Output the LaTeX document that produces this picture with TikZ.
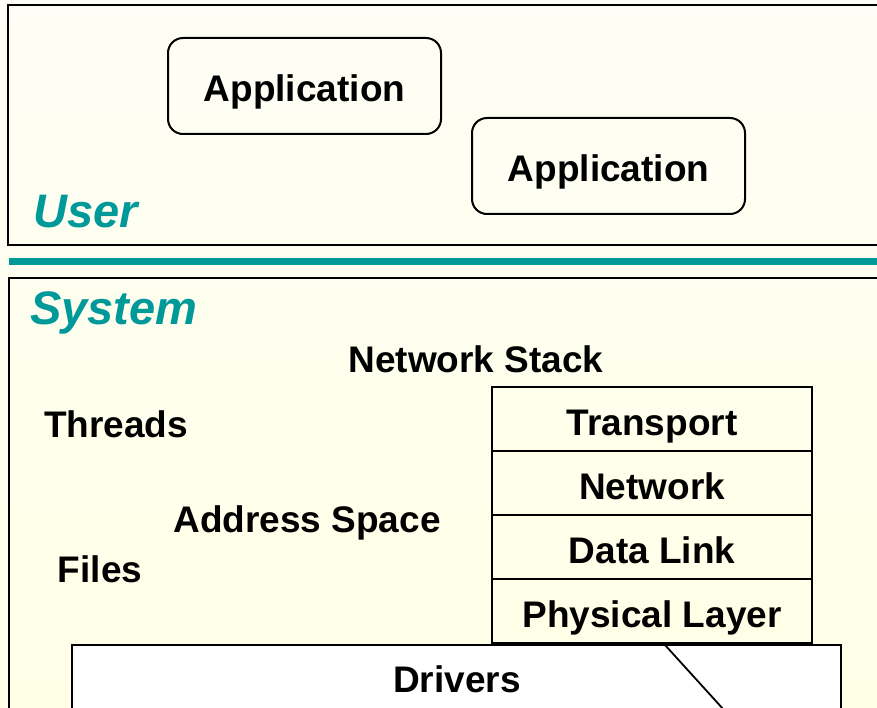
\documentclass[tikz,border=0pt]{standalone}
\usepackage{fontspec}
\setmainfont{Liberation Sans}
\definecolor{teal1}{RGB}{0,153,153}
\definecolor{bgtop}{RGB}{254,254,246}
\definecolor{bgbot}{RGB}{255,255,230}
\tikzset{
  lbl/.style={font=\fontsize{37}{40}\selectfont\bfseries, inner sep=0pt, text height=26.5pt, text depth=0pt},
  region/.style={font=\fontsize{47}{50}\selectfont\bfseries\itshape, text=teal1, inner sep=0pt},
  appbox/.style={draw, line width=2pt, rounded corners=15pt, minimum width=273pt, minimum height=96pt, outer sep=0pt, lbl, text height=31pt},
  layer/.style={draw, line width=2pt, minimum width=320pt, minimum height=64pt, outer sep=0pt, lbl, text height=32pt},
  frame/.style={draw, line width=2.2pt}
}
\begin{document}
\begin{tikzpicture}[x=1pt,y=-1pt]
\useasboundingbox (0,0) rectangle (877,708);
\clip (0,0) rectangle (877,708);
\shade[top color=bgtop, bottom color=bgbot] (0,0) rectangle (877,708);
% user region
\draw[frame] (8,5) rectangle (900,245);
\node[region, anchor=base west] (user) at (33,228) {User};
\node[appbox] (app1) at (304.5,86) {Application};
\node[appbox] (app2) at (608.5,166) {Application};
% divider
\fill[teal1] (9,258) rectangle (900,265.5);
% system region
\draw[frame] (9,278) rectangle (900,760);
\node[region, anchor=base west] (sys) at (30,324) {System};
\node[lbl] (ns) at (476,359) {Network Stack};
\node[lbl] (thr) at (116,424) {Threads};
\node[lbl] (as) at (307,519) {Address Space};
\node[lbl] (files) at (100,569) {Files};
% stack
\node[layer] (tr) at (652,419) {Transport};
\node[layer, anchor=north] (nw) at (tr.south) {Network};
\node[layer, anchor=north] (dl) at (nw.south) {Data Link};
\node[layer, anchor=north] (ph) at (dl.south) {Physical Layer};
% drivers
\draw[frame, fill=white] (72,645) rectangle (841,760);
\node[lbl] (drv) at (457,679) {Drivers};
\coordinate (dstart) at (665,645);
\coordinate (dend) at (724,710);
\draw[line width=1.8pt] (dstart) -- (dend);
\end{tikzpicture}
\end{document}
